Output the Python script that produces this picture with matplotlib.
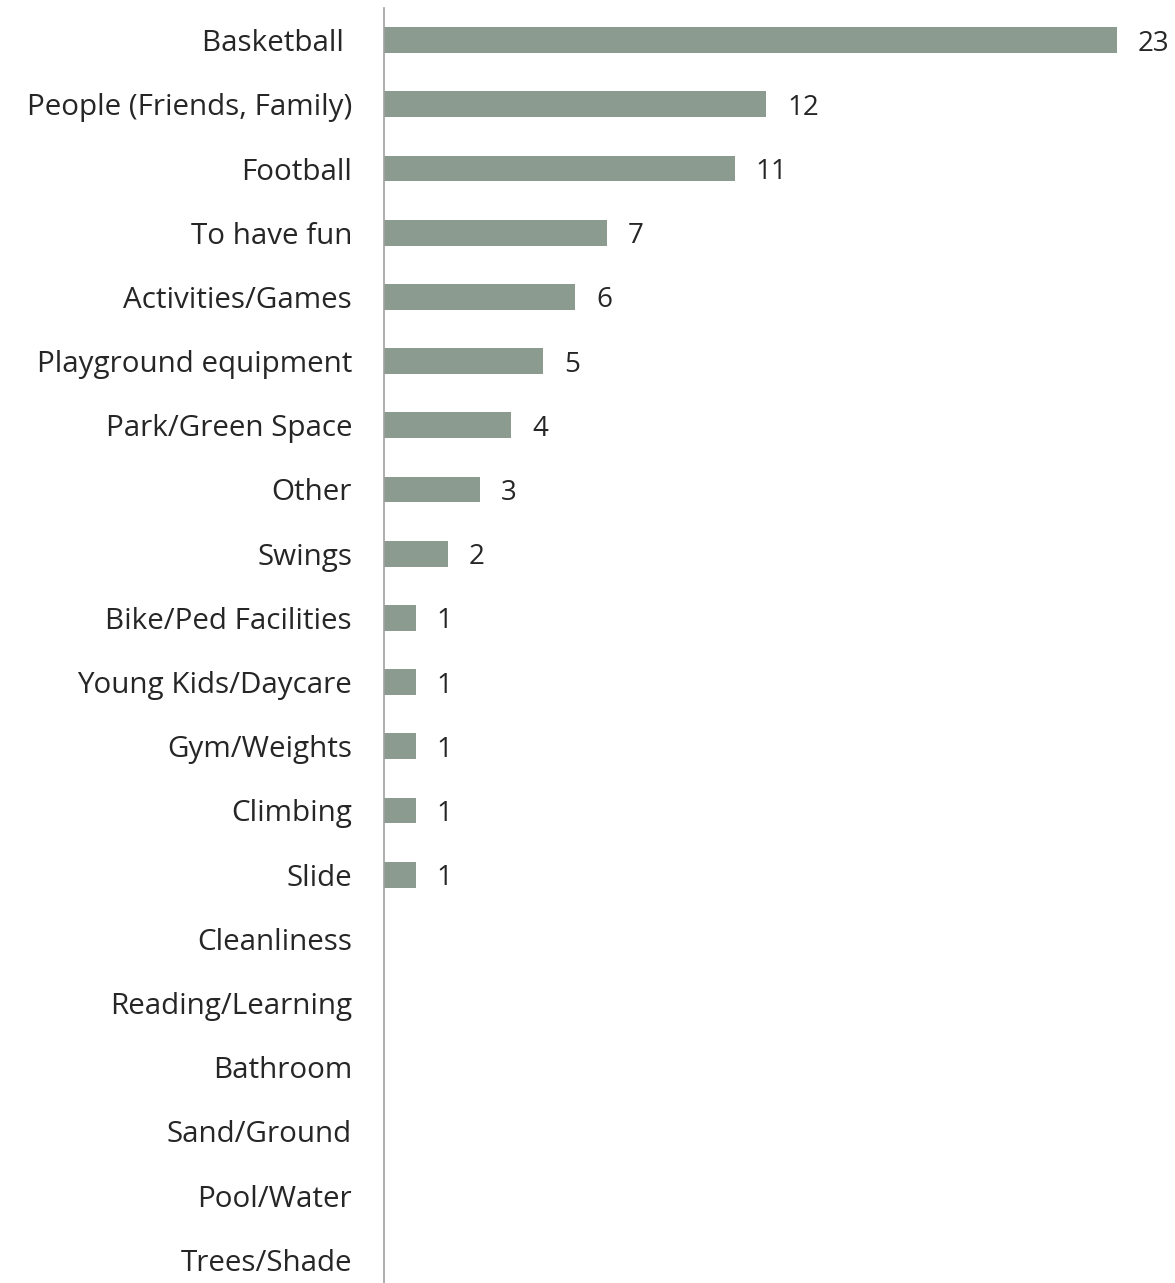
import matplotlib.pyplot as plt

categories = ['Basketball ', 'People (Friends, Family)', 'Football', 'To have fun',
              'Activities/Games', 'Playground equipment', 'Park/Green Space', 'Other',
              'Swings', 'Bike/Ped Facilities', 'Young Kids/Daycare', 'Gym/Weights',
              'Climbing', 'Slide', 'Cleanliness', 'Reading/Learning', 'Bathroom',
              'Sand/Ground', 'Pool/Water', 'Trees/Shade']
counts = [23, 12, 11, 7, 6, 5, 4, 3, 2, 1, 1, 1, 1, 1, 0, 0, 0, 0, 0, 0]

plt.rcParams['font.family'] = ['Open Sans', 'DejaVu Sans']

W, H = 1175, 1283
fig = plt.figure(figsize=(W / 100, H / 100), dpi=100)
# axes placed in pixel terms: left edge at x=384, rows from y=8 to y=1292
left, right = 384, 384 + 24 * 31.87
top, bottom = 8, 1292
ax = fig.add_axes([left / W, (H - bottom) / H, (right - left) / W, (bottom - top) / H])

ypos = list(range(len(categories)))
ax.barh(ypos, counts, height=0.4, color='#8b9b8f')
for y, v in zip(ypos, counts):
    if v > 0:
        ax.text(v + 0.65, y, str(v), va='center_baseline', ha='left', fontsize=20,
                color='#262626', clip_on=False)

ax.set_xlim(0, 24)
ax.set_ylim(len(categories) - 0.5, -0.5)
ax.set_yticks(ypos)
ax.set_yticklabels(categories, fontsize=21.3, color='#262626')
ax.tick_params(axis='y', length=0, pad=23)
ax.set_xticks([])
for s in ['top', 'right', 'bottom']:
    ax.spines[s].set_visible(False)
ax.spines['left'].set_color('#a0a0a0')
ax.spines['left'].set_linewidth(1.2)

fig.savefig('out.png', dpi=100)
